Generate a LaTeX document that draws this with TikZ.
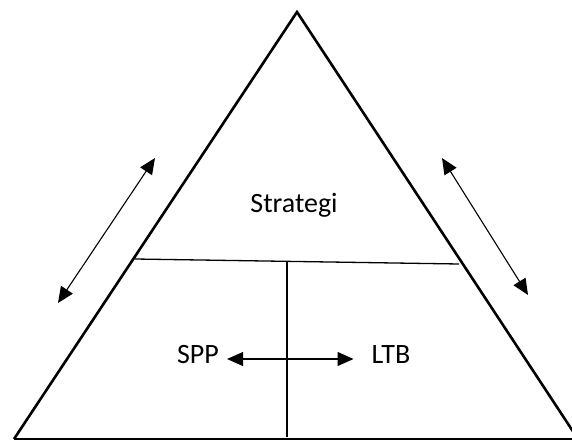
\documentclass[tikz,border=0pt]{standalone}
\usepackage{fontspec}
\setmainfont{Carlito}
\usetikzlibrary{arrows.meta}
\begin{document}
\begin{tikzpicture}[x=1pt,y=-1pt,
  side/.style={line width=2.6pt,line join=miter},
  divider/.style={line width=1.3pt},
  dbl/.style={line width=1.1pt,{Triangle[length=16pt,width=14pt]}-{Triangle[length=16pt,width=14pt]}},
  lbl/.style={font=\fontsize{28}{32}\selectfont,inner sep=0pt}]
\useasboundingbox (0,0) rectangle (572,443);
% corners of the pyramid
\coordinate (top) at (297,12);
\coordinate (bl) at (14,439);
\coordinate (br) at (578,439);
\begin{scope}
\clip (0,0) rectangle (572,443);
\draw[side] (bl) -- (top) -- (br);
\draw[divider] (bl) -- (br);
\end{scope}
% divisions
\coordinate (hl) at (135,259);
\coordinate (hr) at (459,264);
\draw[divider] (hl) -- (hr);
\coordinate (vt) at (287,262);
\coordinate (vb) at (287,437);
\draw[divider] (vt) -- (vb);
% labels
\node[lbl] (strat) at (294,205) {Strategi};
\node[lbl] (spp) at (198,355) {SPP};
\node[lbl] (ltb) at (391,355) {LTB};
\draw[dbl,shorten <=8pt,shorten >=18pt] ([yshift=-4pt]spp.east) -- ([yshift=-4pt]ltb.west);
% side arrows
\coordinate (la) at (155,158);
\coordinate (lb) at (58,303);
\draw[dbl] (la) -- (lb);
\coordinate (ra) at (442,158);
\coordinate (rb) at (528,295);
\draw[dbl] (ra) -- (rb);
\end{tikzpicture}
\end{document}
